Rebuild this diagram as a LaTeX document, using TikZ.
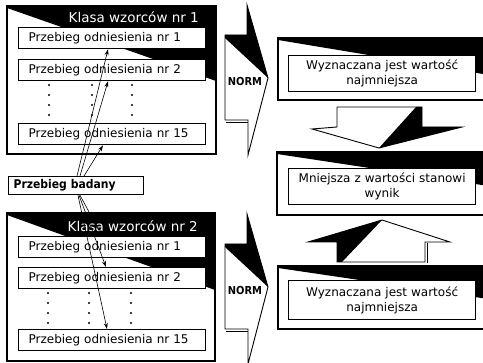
\documentclass[tikz,border=0pt]{standalone}
\usepackage{fontspec}
\setmainfont{DejaVu Sans}
\newfontfamily\condfont{DejaVu Sans Condensed}
\usetikzlibrary{arrows.meta}
\begin{document}
\begin{tikzpicture}[x=1pt,y=-1pt,
  framebox/.style={draw=black, line width=1.4pt},
  refbox/.style={draw=black, line width=1.3pt, fill=white, anchor=north west,
    minimum width=187pt, minimum height=21pt, text width=167pt,
    inner xsep=10pt, inner ysep=0pt, align=left,
    font=\fontsize{12}{14}\selectfont},
  resbox/.style={draw=black, line width=1.3pt, fill=white, anchor=north west,
    minimum width=187pt, minimum height=36pt, text width=175pt,
    inner xsep=6pt, inner ysep=0pt, align=center,
    font=\fontsize{12}{15}\selectfont},
  titletext/.style={anchor=east, text=white, inner sep=0pt,
    font=\fontsize{13.5}{16}\selectfont},
  normtext/.style={inner sep=0pt, font=\condfont\bfseries\fontsize{11}{13}\selectfont},
  arr/.style={-{Stealth[length=6pt,width=4pt]}, line width=0.6pt},
  shapeline/.style={draw=black, line width=0.9pt, line join=miter}
]
\useasboundingbox (0,0) rectangle (483,363);
\clip (0,0) rectangle (483,363);

% ---------- left: class 1 ----------
\fill[white] (7,6) rectangle (216,154);
\fill[black] (7,6) -- (216,6) -- (216,81) -- (7,8) -- cycle;
\draw[framebox] (7,6) rectangle (216,154);
\node[titletext] (t1) at (199,17) {Klasa wzorców nr 1};
\node[refbox] (a1) at (18,27) {Przebieg odniesienia nr 1};
\node[refbox] (a2) at (18,59) {Przebieg odniesienia nr 2};
\node[refbox] (a15) at (18,123) {Przebieg odniesienia nr 15};
\foreach \xx in {49,92,132}
  \foreach \yy in {85,95,105,115}
    \fill (\xx,\yy) circle (1.1pt);

% ---------- left: class 2 ----------
\fill[white] (7,213) rectangle (215,361);
\fill[black] (7,213) -- (215,213) -- (215,290) -- (7,215) -- cycle;
\draw[framebox] (7,213) rectangle (215,361);
\node[titletext] (t2) at (198,226) {Klasa wzorców nr 2};
\node[refbox] (b1) at (18,236) {Przebieg odniesienia nr 1};
\node[refbox] (b2) at (18,267) {Przebieg odniesienia nr 2};
\node[refbox] (b15) at (18,329) {Przebieg odniesienia nr 15};
\foreach \xx in {48,89,131}
  \foreach \yy in {293,303,313,323}
    \fill (\xx,\yy) circle (1.1pt);

% ---------- tested signal ----------
\node[draw=black, line width=1.3pt, fill=white, anchor=north west,
  minimum width=135pt, minimum height=18pt, text width=125pt,
  inner xsep=5pt, inner ysep=0pt, align=left,
  font=\condfont\bfseries\fontsize{12}{14}\selectfont] (bad) at (8,176) {Przebieg badany};

\draw[arr] ([xshift=69pt]bad.north west) -- ([xshift=90pt]a1.south west);
\draw[arr] ([xshift=72pt]bad.north west) -- ([xshift=90pt]a2.south west);
\draw[arr] ([xshift=76pt]bad.north west) -- ([xshift=85pt]a15.south west);
\draw[arr] ([xshift=72pt]bad.south west) -- ([xshift=84pt]b1.north west);
\draw[arr] ([xshift=71pt]bad.south west) -- ([xshift=88pt]b2.north west);
\draw[arr] ([xshift=70pt]bad.south west) -- ([xshift=89pt]b15.north west);

% ---------- NORM arrows ----------
\foreach \dy in {0,209} {
\begin{scope}[shift={(0,\dy)}]
  \fill[white] (225,37) -- (268,78) -- (248,155) -- (248,120) -- (225,120) -- cycle;
  \fill[black] (247,5) -- (247,35) -- (225,35) -- (225,38) -- (268,78) -- cycle;
  \draw[shapeline] (247,5) -- (268,78) -- (248,155) -- (248,120) -- (225,120) -- (225,35) -- (247,35) -- cycle;
  \draw[line width=0.6pt] (226,122) -- (248,122);
\end{scope}
}
\node[normtext] (n1) at (245,81) {NORM};
\node[normtext] (n2) at (245,290) {NORM};

% ---------- right frames ----------
\fill[white] (278,38) rectangle (495,100);
\fill[black] (278,38) -- (495,38) -- (495,76) -- (278,40) -- cycle;
\draw[framebox] (278,38) rectangle (495,100);
\node[resbox] (r1) at (288,55) {Wyznaczana jest wartość\\najmniejsza};

\fill[white] (277,152) rectangle (495,215);
\fill[black] (277,152) -- (495,152) -- (495,187) -- (277,154) -- cycle;
\draw[framebox] (277,152) rectangle (495,215);
\node[resbox] (r2) at (288,168) {Mniejsza z wartości stanowi\\wynik};

\fill[white] (278,266) rectangle (495,329);
\fill[black] (278,266) -- (495,266) -- (495,300) -- (278,268) -- cycle;
\draw[framebox] (278,266) rectangle (495,329);
\node[resbox, minimum height=39pt] (r3) at (288,280) {Wyznaczana jest wartość\\najmniejsza};

% ---------- down arrow ----------
\fill[white] (337,107) -- (422,107) -- (422,127) -- (462,127) -- (379,148) -- (312,129) -- (337,127) -- cycle;
\fill[black] (416,107) -- (422,107) -- (422,127) -- (462,127) -- (379,148) -- cycle;
\draw[shapeline] (337,107) -- (422,107) -- (422,127) -- (462,127) -- (379,148) -- (312,129) -- (337,127) -- cycle;

% ---------- up arrow ----------
\fill[white] (337,262) -- (337,242) -- (308,242) -- (382,220) -- (450,242) -- (425,242) -- (425,262) -- cycle;
\fill[black] (308,242) -- (382,220) -- (342,262) -- (337,262) -- (337,242) -- cycle;
\draw[shapeline] (337,262) -- (337,242) -- (308,242) -- (382,220) -- (450,242) -- (425,242) -- (425,262) -- cycle;
\draw[line width=0.6pt] (427,243) -- (427,263);
\end{tikzpicture}
\end{document}
